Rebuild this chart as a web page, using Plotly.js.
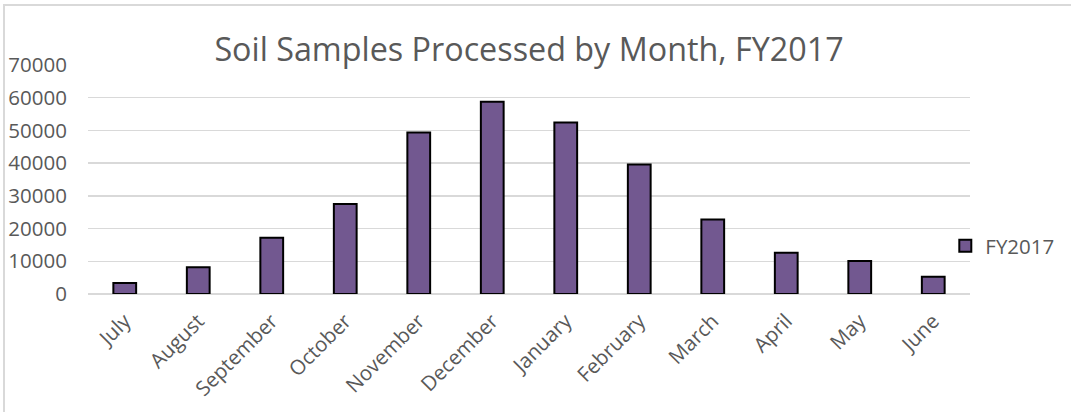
<!DOCTYPE html>
<html>
<head>
<meta charset="utf-8">
<script src="https://cdn.plot.ly/plotly-3.0.1.min.js"></script>
<style>
  html, body { margin: 0; padding: 0; background: #fff; overflow: hidden; }
  #chart { width: 1071px; height: 412px; }
  #frame { position: absolute; left: 3px; top: 4px; width: 1080px; height: 420px;
           border-left: 2px solid #d9d9d9; border-top: 2px solid #d9d9d9; pointer-events: none; }
</style>
</head>
<body>
<div id="chart"></div>
<div id="frame"></div>
<script>
const months = ["July", "August", "September", "October", "November", "December",
                "January", "February", "March", "April", "May", "June"];
const fy2017 = [3400, 8200, 17200, 27500, 49400, 58800, 52400, 39600, 22800, 12600, 10100, 5300];
const seriesName = "FY2017";
const chartTitle = "Soil Samples Processed by Month, FY2017";
const yTicks = [0, 10000, 20000, 30000, 40000, 50000, 60000, 70000];

const font = "Open Sans, DejaVu Sans, sans-serif";
const trace = {
  type: "bar",
  x: months,
  y: fy2017,
  name: seriesName,
  width: 0.31,
  marker: { color: "rgb(114,88,144)", line: { color: "#000000", width: 2 } },
  showlegend: true,
  hoverinfo: "x+y"
};

const layout = {
  width: 1071, height: 412,
  margin: { l: 88, r: 101, t: 65, b: 118, autoexpand: false },
  paper_bgcolor: "#ffffff", plot_bgcolor: "#ffffff",
  font: { family: font, color: "#595959" },
  title: { text: chartTitle, font: { family: font, size: 32.3, color: "#595959" },
           x: 0.5, xref: "paper", xanchor: "center", y: 0.88, yanchor: "middle" },
  xaxis: {
    type: "category", tickangle: -45, tickfont: { size: 20.5, color: "#595959" },
    showgrid: false, zeroline: false, showline: false,
    ticks: "outside", ticklen: 6, tickcolor: "rgba(0,0,0,0)", automargin: false,
    range: [-0.5, 11.5]
  },
  yaxis: {
    range: [0, 70000], tickvals: yTicks, ticktext: yTicks.map(String),
    tickfont: { size: 20.5, color: "#595959" },
    showgrid: true, gridcolor: "#d9d9d9", gridwidth: 1.5,
    zeroline: true, zerolinecolor: "#d9d9d9", zerolinewidth: 1.5,
    showline: false, ticks: "outside", ticklen: 16, tickcolor: "rgba(0,0,0,0)",
    automargin: false
  },
  legend: {
    x: 0.972, xanchor: "left", y: 0.21, yanchor: "middle",
    font: { size: 20.5, color: "#595959" }, bgcolor: "rgba(0,0,0,0)",
    itemwidth: 30
  },
  bargap: 0.69
};

Plotly.newPlot("chart", [trace], layout, { displayModeBar: false, staticPlot: true });
</script>
</body>
</html>
